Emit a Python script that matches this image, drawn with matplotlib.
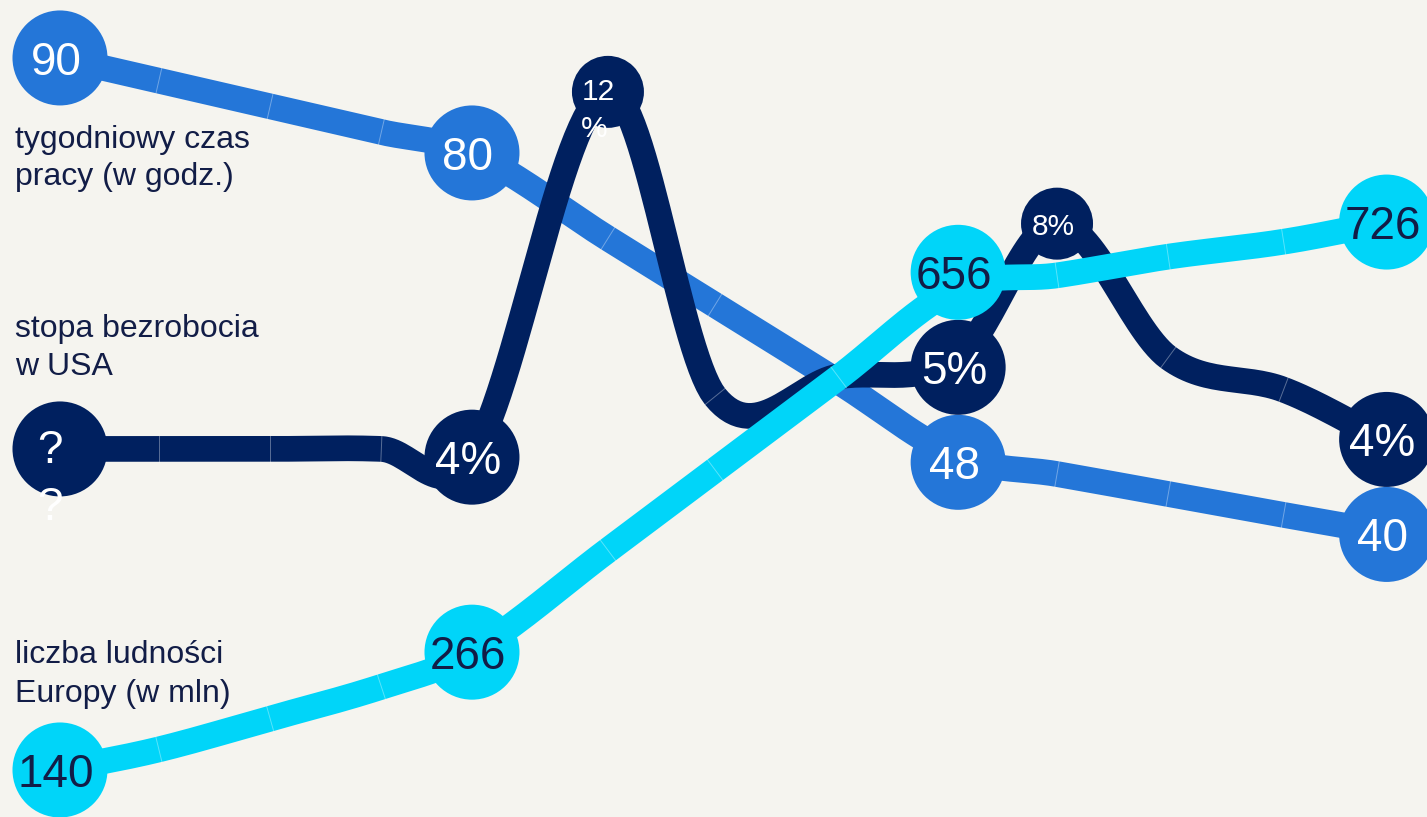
import matplotlib
matplotlib.use("Agg")
import matplotlib.pyplot as plt
from matplotlib.patches import Circle
from matplotlib.transforms import IdentityTransform
import numpy as np

plt.rcParams["font.family"] = ["Liberation Sans", "DejaVu Sans"]

# 13 time steps; the four main columns sit at index 0, 4, 8 and 12
steps = [0, 0.24, 0.51, 0.78, 1, 1.33, 1.59, 1.89, 2.18, 2.42, 2.69, 2.97, 3.22]

work_hours = [90, 87.6, 84.9, 82.2, 80, 71.0, 64.0, 55.9, 48, 46.2, 44.1, 41.9, 40]
work_labels = ["90", None, None, None, "80", None, None, None, "48", None, None, None, "40"]

unemployment = [4.0, 4.0, 4.0, 4.0, 3.9, 12.0, 4.7, 5.0, 5.3, 8.0, 5.3, 4.8, 4.1]
unemp_labels = ["?\n?", None, None, None, "4%", "12\n%", None, None, "5%", "8%", None, None, "4%"]

population = [140, 162, 195, 229, 266, 375, 461, 560, 656, 669, 689, 705, 726]
pop_labels = ["140", None, None, None, "266", None, None, None, "656", None, None, None, "726"]

series_titles = [
    ["tygodniowy czas", "pracy (w godz.)"],
    ["stopa bezrobocia", "w USA"],
    ["liczba ludności", "Europy (w mln)"],
]

BG = "#f5f4ef"
BLUE = "#2476d8"
NAVY = "#00205f"
CYAN = "#00d5f9"
INK = "#121d47"

W, H = 1427, 817
LW = 18.5


def spline(xs, ys, n=30):
    # cubic hermite in x, tangents from neighbouring points (cardinal style)
    xs = np.asarray(xs, float)
    ys = np.asarray(ys, float)
    m = np.empty_like(ys)
    m[1:-1] = (ys[2:] - ys[:-2]) / (xs[2:] - xs[:-2])
    m[0] = (ys[1] - ys[0]) / (xs[1] - xs[0])
    m[-1] = (ys[-1] - ys[-2]) / (xs[-1] - xs[-2])
    t = np.linspace(0, 1, n, endpoint=False)
    h00 = 2 * t**3 - 3 * t**2 + 1
    h10 = t**3 - 2 * t**2 + t
    h01 = -2 * t**3 + 3 * t**2
    h11 = t**3 - t**2
    out_x, out_y = [], []
    for i in range(len(xs) - 1):
        h = xs[i + 1] - xs[i]
        out_x.append(xs[i] + t * h)
        out_y.append(h00 * ys[i] + h10 * h * m[i] + h01 * ys[i + 1] + h11 * h * m[i + 1])
    out_x.append([xs[-1]])
    out_y.append([ys[-1]])
    return np.concatenate(out_x), np.concatenate(out_y), m


def draw_series(ax, vals, color, log=False):
    yv = np.log(vals) if log else np.asarray(vals, float)
    x, y, slopes = spline(steps, yv)
    ax.plot(x, np.exp(y) if log else y, color=color, lw=LW, solid_capstyle="round")
    # faint joints between the pieces of the ribbon
    half = LW * 100 / 72 / 2
    for i in range(1, len(steps) - 1):
        if i % 4 == 0:
            continue
        eps = 0.01
        ya, yb = yv[i] - slopes[i] * eps, yv[i] + slopes[i] * eps
        if log:
            ya, yb = np.exp(ya), np.exp(yb)
        a = ax.transData.transform((steps[i] - eps, ya))
        b = ax.transData.transform((steps[i] + eps, yb))
        d = (b - a) / np.hypot(*(b - a))
        nrm = np.array([-d[1], d[0]])
        c = (a + b) / 2
        p0, p1 = c - nrm * half, c + nrm * half
        ax.plot([p0[0], p1[0]], [p0[1], p1[1]], transform=IdentityTransform(),
                color="white", lw=0.7, alpha=0.35)


fig = plt.figure(figsize=(W / 100, H / 100), dpi=100)
fig.patch.set_facecolor(BG)

ax_w = fig.add_axes([0, 0, 1, 1])
ax_u = ax_w.twinx()
ax_p = ax_w.twinx()
ax_u.set_yscale("log")

ax_w.set_xlim(-0.1456, 3.318)
ax_w.set_ylim(10.1, 96.1)
ax_u.set_ylim(1.289, 15.92)
ax_p.set_ylim(89.7, 963.5)
for a in (ax_w, ax_u, ax_p):
    a.axis("off")

draw_series(ax_w, work_hours, BLUE)
draw_series(ax_u, unemployment, NAVY, log=True)
draw_series(ax_p, population, CYAN)

# label bubbles, placed at the data points in pixel space
marks = []
for ax, vals, labels, bg, fg in [
    (ax_w, work_hours, work_labels, BLUE, "white"),
    (ax_u, unemployment, unemp_labels, NAVY, "white"),
    (ax_p, population, pop_labels, CYAN, INK),
]:
    for i, lab in enumerate(labels):
        if lab is None:
            continue
        px, py = ax.transData.transform((steps[i], vals[i]))
        main = i % 4 == 0
        marks.append(dict(x=px, y=py, r=47.5 if main else 36, label=lab,
                          bg=bg, fg=fg, size=33 if main else 21.5))

# push apart bubbles in the same column so they do not overlap
for col in set(round(m["x"]) for m in marks):
    group = sorted([m for m in marks if round(m["x"]) == col], key=lambda m: m["y"])
    for _ in range(200):
        for a, b in zip(group, group[1:]):
            overlap = a["r"] + b["r"] - (b["y"] - a["y"])
            if overlap > 0:
                a["y"] -= overlap / 2
                b["y"] += overlap / 2

ax_top = fig.add_axes([0, 0, 1, 1])
ax_top.set_xlim(0, W)
ax_top.set_ylim(0, H)
ax_top.axis("off")
renderer = fig.canvas.get_renderer()

for m in marks:
    ax_top.add_patch(Circle((m["x"], m["y"]), m["r"], color=m["bg"], lw=0))
    lines = m["label"].split("\n")
    if len(lines) == 1:
        ax_top.text(m["x"] - 4, m["y"], lines[0], ha="center", va="center_baseline",
                    fontsize=m["size"], color=m["fg"])
    else:
        first = ax_top.text(m["x"] - 10, m["y"] + 3, lines[0], ha="center",
                            va="center_baseline", fontsize=m["size"], color=m["fg"])
        bb = first.get_window_extent(renderer)
        step = m["size"] * 100 / 72 * 1.25
        for k, line in enumerate(lines[1:], start=1):
            ax_top.text(bb.x0, m["y"] + 3 - k * step, line, ha="left",
                        va="center_baseline", fontsize=m["size"], color=m["fg"])

title_baselines = [(148, 185), (337, 375), (663, 702)]
for title, base in zip(series_titles, title_baselines):
    for line, b in zip(title, base):
        ax_top.text(15, H - b, line, ha="left", va="baseline", fontsize=23, color=INK)

fig.savefig("out.png", dpi=100, facecolor=BG)
